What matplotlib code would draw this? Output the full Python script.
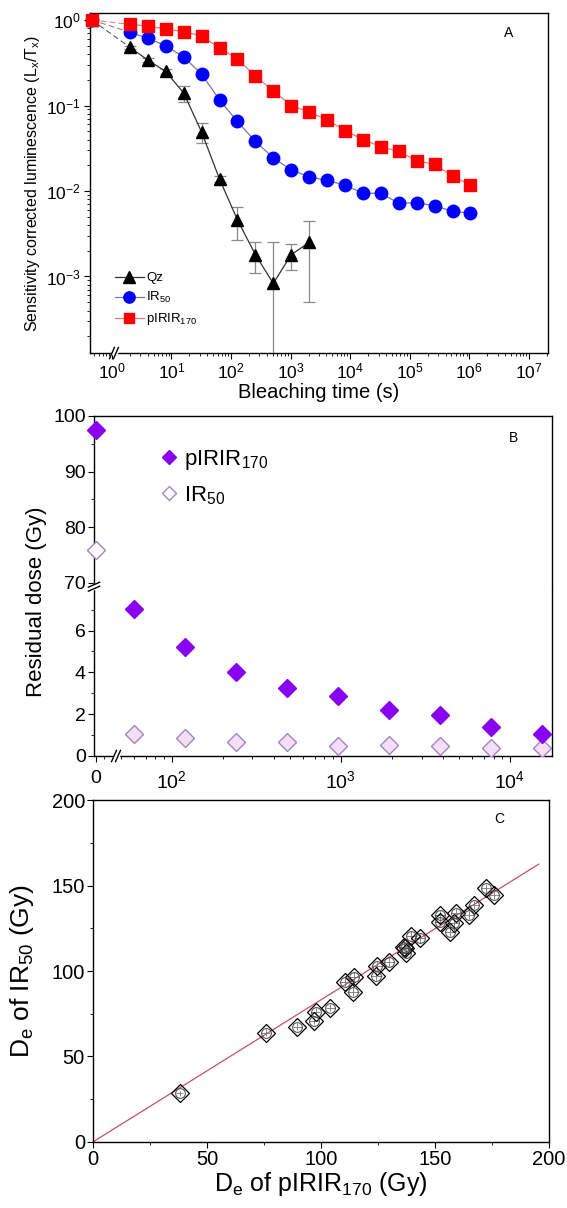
import matplotlib
matplotlib.use("Agg")
import matplotlib.pyplot as plt
import matplotlib.ticker as ticker
from matplotlib.lines import Line2D
import numpy as np

plt.rcParams['font.family'] = ['Liberation Sans', 'DejaVu Sans']
plt.rcParams['mathtext.default'] = 'regular'
plt.rcParams['axes.linewidth'] = 1.0

W, H, DPI = 567, 1208, 100

# ---- A: bleaching curves (time in s, t = 0 is the unbleached point)
time_a = [0, 2, 4, 8, 16, 32, 64, 128, 256, 512, 1024, 2048, 4096, 8192,
          16384, 32768, 65536, 131072, 262144, 524288, 1048576]
qz_lum = [1.0, 0.48, 0.34, 0.25, 0.14, 0.049, 0.0138, 0.0046, 0.0018,
          0.00083, 0.0018, 0.0025]
qz_err = [0.0, 0.02, 0.015, 0.015, 0.03, 0.013, 0.001, 0.0019, 0.0007,
          0.0017, 0.0006, 0.002]
ir50_lum = [1.0, 0.72, 0.61, 0.50, 0.37, 0.233, 0.116, 0.065, 0.038, 0.0245,
            0.0176, 0.0147, 0.0133, 0.0117, 0.0094, 0.0094, 0.0072, 0.0073,
            0.0067, 0.0058, 0.0055]
pirir_lum = [1.0, 0.89, 0.85, 0.785, 0.73, 0.65, 0.47, 0.35, 0.22, 0.148,
             0.100, 0.084, 0.068, 0.051, 0.040, 0.033, 0.029, 0.0226, 0.0205,
             0.0150, 0.0117]

# ---- B: residual doses
time_b = [0, 60, 120, 240, 480, 960, 1920, 3840, 7680, 15360]
pirir_res = [97.4, 7.02, 5.23, 4.03, 3.27, 2.86, 2.20, 1.96, 1.39, 1.05]
ir50_res = [75.9, 1.04, 0.85, 0.68, 0.65, 0.49, 0.53, 0.48, 0.38, 0.37]
ir50_res_err = [0.3, 0.12, 0.1, 0.1, 0.1, 0.1, 0.1, 0.1, 0.1, 0.1]

# ---- C: De comparison
de_pirir = [37.9, 75.7, 89.5, 96.7, 97.6, 104.0, 110.3, 114.2, 113.9, 124.2,
            124.6, 129.9, 136.8, 137.1, 136.4, 139.6, 143.2, 152.0, 152.0,
            156.7, 158.2, 159.4, 164.9, 166.9, 172.5, 176.0]
de_ir50 = [28.3, 63.9, 67.4, 70.7, 76.2, 78.5, 93.7, 96.7, 87.9, 97.0,
           103.0, 105.5, 113.8, 110.4, 114.2, 120.8, 119.1, 132.8, 128.9,
           123.0, 127.9, 133.8, 132.8, 138.7, 148.4, 144.5]
de_err = [1.5, 2.0, 2.0, 2.0, 2.0, 2.0, 2.5, 2.5, 2.5, 2.5, 2.5, 2.5, 2.5,
          2.5, 2.5, 2.5, 2.5, 2.5, 2.5, 2.5, 2.5, 2.5, 2.5, 2.5, 2.5, 2.5]
fit_slope = 0.832
fit_xmax = 195.5

fig = plt.figure(figsize=(W / DPI, H / DPI), dpi=DPI)


def box(l, t, r, b):
    return fig.add_axes([l / W, 1 - b / H, (r - l) / W, (b - t) / H])


def brk(px, py, vertical=False, dx=4.0, size=7.0):
    # "//" axis break drawn in figure pixels
    if vertical:
        fig.add_artist(Line2D([px / W, px / W], [1 - (py - dx / 2 + 0.5) / H, 1 - (py + dx / 2 - 0.5) / H],
                              transform=fig.transFigure, color='white', lw=2.5))
    else:
        fig.add_artist(Line2D([(px - dx / 2 + 0.5) / W, (px + dx / 2 - 0.5) / W], [1 - py / H, 1 - py / H],
                              transform=fig.transFigure, color='white', lw=2.5))
    for off in (-dx / 2, dx / 2):
        if vertical:
            xs = [px - size * 0.8, px + size * 0.8]
            ys = [py + off + size * 0.35, py + off - size * 0.35]
        else:
            xs = [px + off - size * 0.35, px + off + size * 0.35]
            ys = [py + size * 0.8, py - size * 0.8]
        fig.add_artist(Line2D([x / W for x in xs], [1 - y / H for y in ys],
                              transform=fig.transFigure, color='k', lw=1.0))


def style(ax, fs):
    ax.tick_params(which='both', direction='out', top=False, right=False,
                   labelsize=fs, pad=2)
    ax.tick_params(which='major', length=4)
    ax.tick_params(which='minor', length=2.2)


# ================= A =================
ax = box(89.5, 13, 548, 353)
t0a = 0.46
xa = [t0a] + time_a[1:]
qz_t = xa[:len(qz_lum)]

ax.plot(qz_t[:2], qz_lum[:2], '--', color='#555555', lw=0.8, dashes=(5, 3), zorder=2)
ax.plot(xa[:2], ir50_lum[:2], '--', color='#8080a0', lw=0.8, dashes=(5, 3), zorder=2)
ax.plot(xa[:2], pirir_lum[:2], '--', color='#d08a8a', lw=0.8, dashes=(5, 3), zorder=2)

ax.errorbar(qz_t[1:], qz_lum[1:], yerr=qz_err[1:], fmt='none', ecolor='#8a8a8a',
            elinewidth=0.9, capsize=4, capthick=0.9, zorder=3)
ax.plot(qz_t[1:], qz_lum[1:], '-', color='#333333', lw=0.9, marker='^', ms=9,
        mfc='k', mec='k', zorder=4, label='Qz')
ax.plot(xa[1:], ir50_lum[1:], '-', color='#7878a0', lw=0.9, marker='o', ms=9,
        mfc='#0000ff', mec='#0000ff', zorder=4, label='IR$_{50}$')
ax.plot(xa[1:], pirir_lum[1:], '-', color='#e07a7a', lw=0.9, marker='s', ms=8,
        mfc='#ff0000', mec='#ff0000', zorder=4, label='pIRIR$_{170}$')
ax.plot([t0a], [qz_lum[0]], '^', ms=9, color='k', clip_on=False, zorder=4)
ax.plot([t0a], [ir50_lum[0]], 'o', ms=9, color='#0000ff', clip_on=False, zorder=4)
ax.plot([t0a], [pirir_lum[0]], 's', ms=8, color='#ff0000', clip_on=False, zorder=5)

ax.set_xscale('log')
ax.set_yscale('log')
ax.set_xlim(0.42, 2.1e7)
ax.set_ylim(10 ** -3.895, 10 ** 0.082)
ax.xaxis.set_major_locator(ticker.FixedLocator([1, 1e1, 1e2, 1e3, 1e4, 1e5, 1e6, 1e7]))
ax.xaxis.set_minor_locator(ticker.LogLocator(base=10, subs=np.arange(2, 10), numticks=20))
ax.xaxis.set_major_formatter(ticker.LogFormatterMathtext())
ax.xaxis.set_minor_formatter(ticker.NullFormatter())
ax.yaxis.set_major_locator(ticker.FixedLocator([1e-3, 1e-2, 1e-1, 1]))
ax.yaxis.set_minor_locator(ticker.LogLocator(base=10, subs=np.arange(2, 10), numticks=20))
ax.yaxis.set_major_formatter(ticker.LogFormatterMathtext())
ax.yaxis.set_minor_formatter(ticker.NullFormatter())
style(ax, 12.5)
ax.set_xlabel('Bleaching time (s)', fontsize=14.5, labelpad=1)
ax.set_ylabel('Sensitivity corrected luminescence (L$_x$/T$_x$)', fontsize=11.5, labelpad=3)
ax.text(0.915, 0.94, 'A', transform=ax.transAxes, fontsize=10, ha='center', va='center')
ax.legend(loc='upper left', bbox_to_anchor=(0.035, 0.265), frameon=False, fontsize=9.5,
          handlelength=2.2, handletextpad=0.2, labelspacing=0.45, borderpad=0.2,
          markerscale=0.9)
brk(114, 353)

# ================= B =================
split = 586.7
axu = box(94, 416, 551.5, split)
axl = box(94, split, 551.5, 756)
t0b = 35.5
xb = [t0b] + time_b[1:]

for a in (axu, axl):
    a.plot(xb[1:], pirir_res[1:], 'D', ms=9, mfc='#8a00f0', mec='#8a00f0',
           zorder=4)
    a.errorbar(xb[1:], ir50_res[1:], yerr=ir50_res_err[1:], fmt='D', ms=9, mfc='#f4dff4',
               mec='#9f86c8', mew=1.0, ecolor='#9f86c8', elinewidth=0.8,
               capsize=2.5, capthick=0.8, zorder=3)
    a.set_xscale('log')
    a.set_xlim(34.7, 17600)
    a.xaxis.set_minor_locator(ticker.LogLocator(base=10, subs=np.arange(2, 10), numticks=20))
    a.xaxis.set_minor_formatter(ticker.NullFormatter())
    style(a, 14)

# unbleached doses sit on the break axis at t = 0
axu.plot([t0b], [pirir_res[0]], 'D', ms=9, mfc='#8a00f0', mec='#8a00f0', clip_on=False,
         zorder=4, label='pIRIR$_{170}$')
axu.plot([t0b], [ir50_res[0]], 'D', ms=9, mfc='white', mec='#9f86c8', mew=1.0,
         clip_on=False, zorder=3, label='IR$_{50}$')

axu.set_ylim(69.3, 100)
axu.yaxis.set_major_locator(ticker.FixedLocator([70, 80, 90, 100]))
axu.yaxis.set_minor_locator(ticker.FixedLocator([75, 85, 95]))
axu.spines['bottom'].set_visible(False)
axu.tick_params(axis='x', which='both', bottom=False, labelbottom=False)

axl.set_ylim(0, 8.1)
axl.yaxis.set_major_locator(ticker.FixedLocator([0, 2, 4, 6]))
axl.yaxis.set_minor_locator(ticker.FixedLocator([1, 3, 5, 7]))
axl.spines['top'].set_visible(False)
axl.xaxis.set_major_locator(ticker.FixedLocator([t0b, 100, 1000, 10000]))
axl.xaxis.set_major_formatter(ticker.FixedFormatter(['0', '10$^2$', '10$^3$', '10$^4$']))
axl.tick_params(axis='x', which='major', pad=6)

axu.legend(loc='upper left', bbox_to_anchor=(0.1, 0.93), frameon=False,
           fontsize=16, handlelength=0.8, handletextpad=0.3, labelspacing=0.55,
           markerscale=0.75)
axu.text(0.918, 0.87, 'B', transform=axu.transAxes, fontsize=10, ha='center', va='center')
fig.text(37 / W, 1 - 602 / H, 'Residual dose (Gy)', rotation=90, fontsize=16,
         ha='center', va='center')
brk(116, 756)
brk(94, split, vertical=True)

# ================= C =================
axc = box(93.3, 800.4, 549, 1141.7)
axc.plot([0, fit_xmax], [0, fit_slope * fit_xmax], '-', color='#c8506a', lw=0.9, zorder=2)
axc.errorbar(de_pirir, de_ir50, xerr=de_err, yerr=de_err, fmt='none', ecolor='#777777',
             elinewidth=0.6, capsize=0, zorder=3)
axc.plot(de_pirir, de_ir50, 'D', ms=9, mfc='none', mec='k', mew=0.9, zorder=4)
axc.plot(de_pirir, de_ir50, 'o', ms=7, mfc='none', mec='#444444', mew=0.7, zorder=4)
axc.set_xlim(0, 200)
axc.set_ylim(0, 200)
axc.xaxis.set_major_locator(ticker.MultipleLocator(50))
axc.xaxis.set_minor_locator(ticker.MultipleLocator(25))
axc.yaxis.set_major_locator(ticker.MultipleLocator(50))
axc.yaxis.set_minor_locator(ticker.MultipleLocator(25))
style(axc, 14.5)
axc.set_xlabel('D$_e$ of pIRIR$_{170}$ (Gy)', fontsize=18, labelpad=1)
axc.set_ylabel('D$_e$ of IR$_{50}$ (Gy)', fontsize=19)
axc.yaxis.set_label_coords((36 - 93.3) / 455.7, 0.5)
axc.text(0.89, 0.945, 'C', transform=axc.transAxes, fontsize=10, ha='center', va='center')

fig.savefig('out.png', dpi=DPI)
